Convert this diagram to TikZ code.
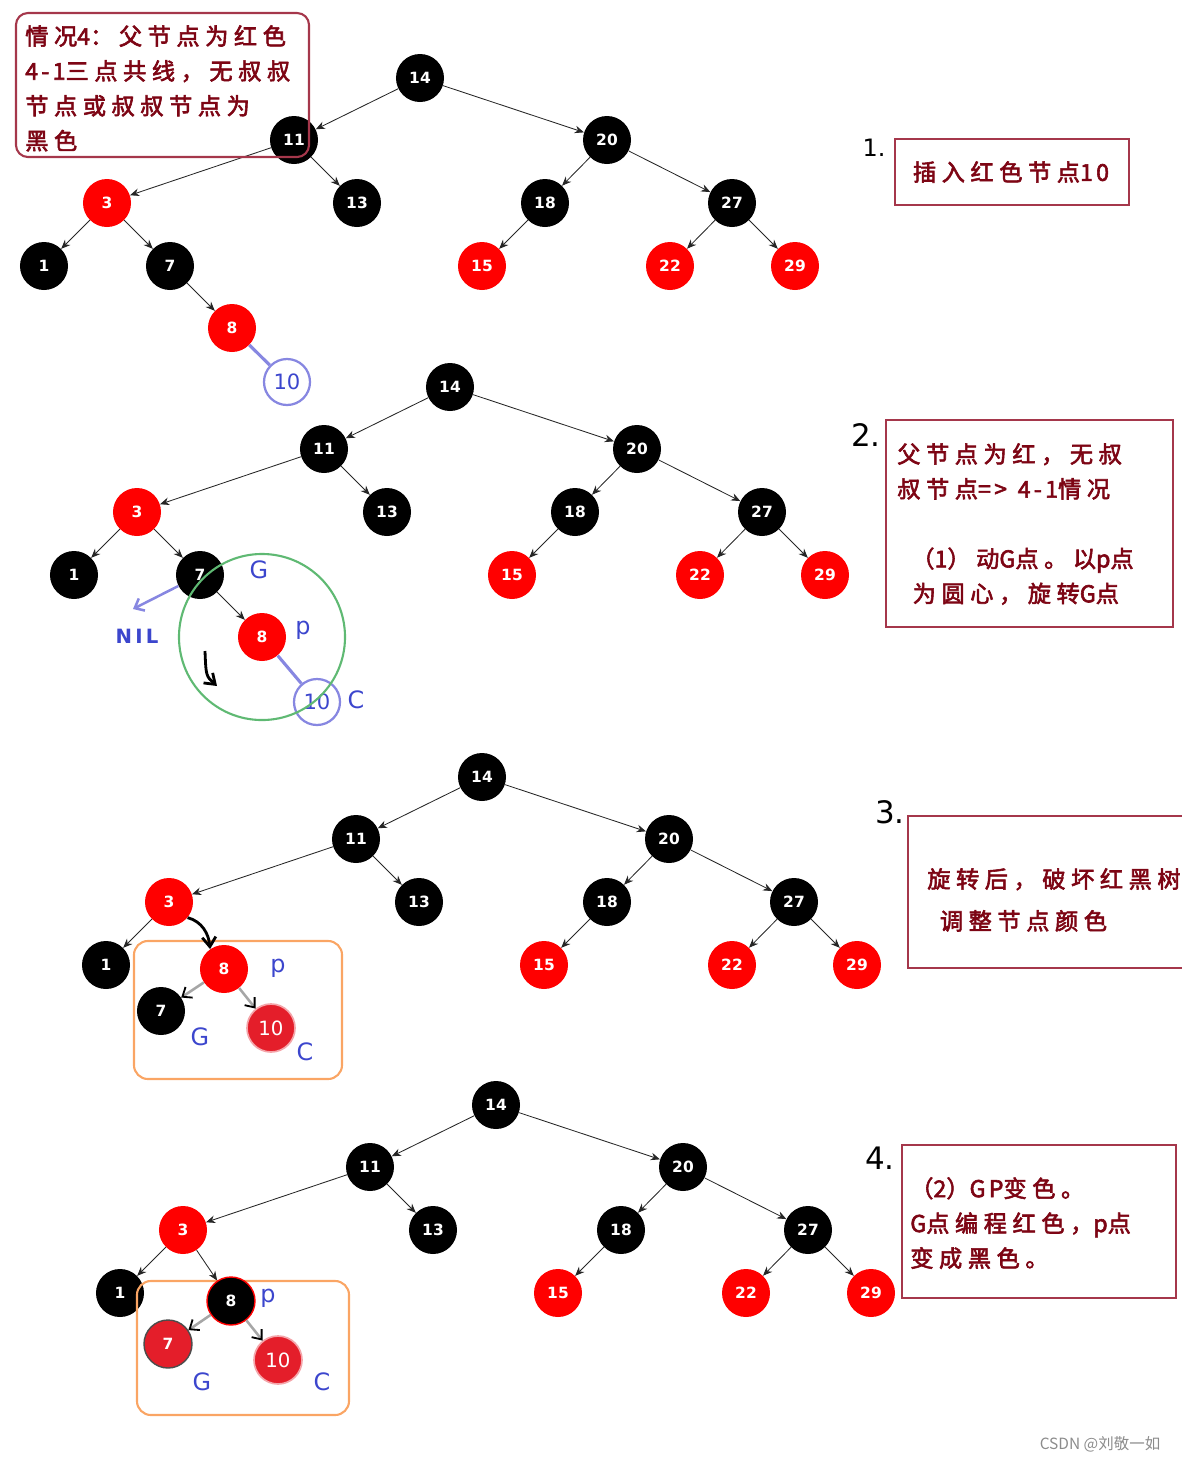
\documentclass[tikz,border=0pt]{standalone}
\usepackage{fontspec}
\setmainfont{DejaVu Sans}
\newfontfamily\cjk{Noto Sans CJK SC}[LetterSpace=24, FakeBold=2.5]
\newfontfamily\lat{Noto Sans CJK SC}[LetterSpace=14, FakeBold=2.5]
\newfontfamily\cjkplain{Noto Sans CJK SC}
\usetikzlibrary{arrows.meta}
\definecolor{notered}{RGB}{125,5,20}
\definecolor{noteline}{RGB}{165,55,75}
\definecolor{rbred}{RGB}{255,0,0}
\definecolor{softred}{RGB}{228,30,42}
\definecolor{penblue}{RGB}{60,70,205}
\definecolor{ringblue}{RGB}{135,135,225}
\definecolor{ringgreen}{RGB}{95,185,115}
\definecolor{boxorange}{RGB}{250,165,100}

\begin{document}
\begin{tikzpicture}[x=0.025cm, y=-0.025cm,
        bnode/.style={circle, fill=black, minimum size=1.2cm, inner sep=0pt,
                text=white, font=\bfseries\fontsize{11}{11}\selectfont},
        rnode/.style={bnode, fill=rbred},
        bignode/.style={bnode, fill=softred, draw=softred!40, line width=1.2pt,
                font=\fontsize{14}{14}\selectfont},
        edge/.style={-{Stealth[length=2.3mm, width=1.9mm]}, line width=0.6pt, black!85},
        ring/.style={circle, draw=ringblue, line width=1.6pt, minimum size=1.15cm,
                inner sep=0pt, text=penblue, font=\fontsize{15}{15}\selectfont},
        penline/.style={ringblue, line width=2.2pt},
        hand/.style={text=penblue, font=\fontsize{17}{17}\selectfont},
        pen/.style={line width=2pt, -{Straight Barb[length=2.4mm, width=3.4mm]}},
        greyline/.style={gray!70, line width=1.8pt,
                -{Straight Barb[length=2mm, width=3.2mm, color=black, line width=1.3pt]}},
        note/.style={draw=noteline, line width=1.5pt},
        notetext/.style={text=notered, align=left, inner sep=0pt,
                font=\cjk\fontsize{16.5}{24.8}\selectfont},
        obox/.style={draw=boxorange, line width=1.5pt, rounded corners=0.35cm},
        stepno/.style={font=\fontsize{17}{17}\selectfont}
    ]
    \useasboundingbox (0,0) rectangle (1182,1462);

    % the part of the tree that is the same in all four steps
    \foreach \t/\dx/\dy in {1/0/0, 2/30/309, 3/62/699, 4/76/1027}{
        \begin{scope}[shift={(\dx,\dy)}]
            \node[bnode] (t\t-14) at (420,78) {14};
            \node[bnode] (t\t-11) at (294,140) {11};
            \node[bnode] (t\t-20) at (607,140) {20};
            \node[rnode] (t\t-3) at (107,203) {3};
            \node[bnode] (t\t-13) at (357,203) {13};
            \node[bnode] (t\t-18) at (545,203) {18};
            \node[bnode] (t\t-27) at (732,203) {27};
            \node[bnode] (t\t-1) at (44,266) {1};
            \node[rnode] (t\t-15) at (482,266) {15};
            \node[rnode] (t\t-22) at (670,266) {22};
            \node[rnode] (t\t-29) at (795,266) {29};
            \draw[edge] (t\t-14) -- (t\t-11);
            \draw[edge] (t\t-14) -- (t\t-20);
            \draw[edge] (t\t-11) -- (t\t-3);
            \draw[edge] (t\t-11) -- (t\t-13);
            \draw[edge] (t\t-20) -- (t\t-18);
            \draw[edge] (t\t-20) -- (t\t-27);
            \draw[edge] (t\t-3) -- (t\t-1);
            \draw[edge] (t\t-18) -- (t\t-15);
            \draw[edge] (t\t-27) -- (t\t-22);
            \draw[edge] (t\t-27) -- (t\t-29);
        \end{scope}
    }

    % step 1
    \node[bnode] (t1-7) at (170,266) {7};
    \node[rnode] (t1-8) at (232,328) {8};
    \node[ring] (t1-10) at (287,382) {10};
    \draw[edge] (t1-3) -- (t1-7);
    \draw[edge] (t1-7) -- (t1-8);
    \draw[penline] (t1-8) -- (t1-10);

    % step 2
    \node[bnode] (t2-7) at (200,575) {7};
    \node[rnode] (t2-8) at (262,637) {8};
    \node[ring] (t2-10) at (317,702) {10};
    \node[circle, draw=ringgreen, line width=1.5pt, minimum size=4.15cm] (t2-turn) at (262,637) {};
    \draw[edge] (t2-3) -- (t2-7);
    \draw[edge] (t2-7) -- (t2-8);
    \draw[penline] (t2-8) -- (t2-10);
    \coordinate (t2-nil) at (133,609);
    \draw[penline, line width=1.8pt, -{Straight Barb[length=2mm, width=3.4mm]}] (t2-7) -- (t2-nil);
    \node[text=penblue, font=\bfseries\fontsize{14}{14}\selectfont] (t2-niltxt) at (137,636) {N\,I\,L};
    \node[hand] (t2-g) at (259,570) {G};
    \node[hand] (t2-p) at (303,630) {p};
    \node[hand] (t2-c) at (356,700) {C};
    \draw[pen] (205,651) .. controls (206,676) .. (217,686);

    % step 3
    \node[obox, minimum width=5.2cm, minimum height=3.45cm] (t3-box) at (238,1010) {};
    \node[rnode] (t3-8) at (224,969) {8};
    \node[bnode] (t3-7) at (161,1011) {7};
    \node[bignode] (t3-10) at (271,1028) {10};
    \draw[pen] (t3-3.-40) to[out=-15, in=95] (t3-8.125);
    \draw[greyline] (t3-8) -- (t3-7);
    \draw[greyline] (t3-8) -- (t3-10);
    \node[hand] (t3-p) at (278,968) {p};
    \node[hand] (t3-g) at (200,1037) {G};
    \node[hand] (t3-c) at (305,1052) {C};

    % step 4
    \node[obox, minimum width=5.3cm, minimum height=3.35cm] (t4-box) at (243,1348) {};
    \node[bnode, draw=rbred, line width=1pt] (t4-8) at (231,1301) {8};
    \node[bnode, fill=softred, draw=black!70, line width=1pt] (t4-7) at (168,1344) {7};
    \node[bignode] (t4-10) at (278,1360) {10};
    \draw[edge] (t4-3) -- (t4-8);
    \draw[greyline] (t4-8) -- (t4-7);
    \draw[greyline] (t4-8) -- (t4-10);
    \node[hand] (t4-p) at (268,1298) {p};
    \node[hand] (t4-g) at (202,1382) {G};
    \node[hand] (t4-c) at (322,1382) {C};

    % notes
    \node[note, rounded corners=0.3cm, minimum width=7.325cm, minimum height=3.6cm] (note0) at (162.5,85) {};
    \node[notetext, anchor=north west] (note0txt) at (25,25)
        {情况{\lat 4}：父节点为红色\\{\lat 4-1}三点共线，无叔叔\\节点或叔叔节点为\\黑色};

    \node[stepno] (step1) at (874,148) {1.};
    \node[note, minimum width=5.85cm, minimum height=1.65cm] (note1) at (1012,172) {};
    \node[notetext] (note1txt) at (1011,172) {插入红色节点{\lat 10}};

    \node[stepno, font=\fontsize{22}{22}\selectfont] (step2) at (866,435) {2.};
    \node[note, minimum width=7.175cm, minimum height=5.175cm] (note2) at (1029.5,523.5) {};
    \node[notetext, anchor=north west] (note2txt) at (897,443)
        {父节点为红，无叔\\叔节点{\lat =>} {\lat 4-1}情况\\[24.8pt]\hspace*{10pt}（{\lat 1}）动{\lat G}点。以{\lat p}点\\\hspace*{11pt}为圆心，旋转{\lat G}点};

    \node[stepno, font=\fontsize{22}{22}\selectfont] (step3) at (890,812) {3.};
    \node[note, minimum width=7.175cm, minimum height=3.8cm] (note3) at (1051.5,892) {};
    \node[notetext, anchor=north west] (note3txt) at (927,868)
        {旋转后，破坏红黑树\\[5pt]\hspace*{9pt}调整节点颜色};

    \node[stepno, font=\fontsize{22}{22}\selectfont] (step4) at (880,1158) {4.};
    \node[note, minimum width=6.85cm, minimum height=3.825cm] (note4) at (1039,1221.5) {};
    \node[notetext, anchor=north west] (note4txt) at (910,1177)
        {（{\lat 2}）{\lat GP}变色。\\{\lat G}点编程红色，{\lat p}点\\变成黑色。};

    \node[text=black!45, font=\cjkplain\fontsize{11}{11}\selectfont] (mark) at (1100,1444) {CSDN @刘敬一如};
\end{tikzpicture}
\end{document}
